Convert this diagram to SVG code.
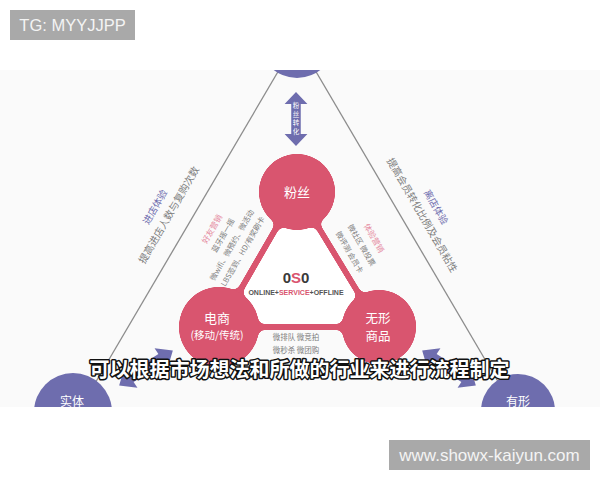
<svg xmlns="http://www.w3.org/2000/svg" width="600" height="480" viewBox="0 0 600 480">
<defs>
<clipPath id="frame"><rect x="0" y="70" width="600" height="337"/></clipPath>
<filter id="goo" x="0" y="0" width="600" height="480" filterUnits="userSpaceOnUse" color-interpolation-filters="sRGB">
<feGaussianBlur stdDeviation="3"/>
<feColorMatrix values="1 0 0 0 0  0 1 0 0 0  0 0 1 0 0  0 0 0 18 -8"/>
</filter>
<path id="dbl" d="M -32 0 L -18 -12 L -18 -5 L 18 -5 L 18 -12 L 32 0 L 18 12 L 18 5 L -18 5 L -18 12 Z"/>
</defs>
<style>
.cjk{font-family:"Noto Sans CJK SC","Noto Sans",sans-serif}
.lat{font-family:"Liberation Sans",Arial,sans-serif}
.edge{stroke:#8c8c8c;stroke-width:1.3;fill:none}
.purple{fill:#6e6dae}
.pink{fill:#d9556f}
.wt{fill:#ffffff}
.gray{fill:#7d7d7d}
.ptitle{fill:#6e6dae}
.ktitle{fill:#e58ba1}
</style>
<rect x="0" y="0" width="600" height="480" fill="#ffffff"/>
<rect x="0" y="70" width="600" height="337" fill="#fafafa"/>
<g clip-path="url(#frame)">
<g id="connectors">
<line class="edge" x1="279" y1="70" x2="94" y2="385"/>
<line class="edge" x1="315" y1="70" x2="500" y2="385"/>
<use href="#dbl" class="purple" transform="translate(296,119) rotate(90) scale(0.84,0.95)"/>
<use href="#dbl" class="purple" transform="translate(146,368) rotate(-33)"/>
<use href="#dbl" class="purple" transform="translate(449,368) rotate(33)"/>
<polygon points="297,192 219,327 379,327" fill="#ffffff"/>
<g filter="url(#goo)">
<polygon points="297,192 219,327 379,327" fill="none" stroke="#d9556f" stroke-width="6" stroke-linejoin="round"/>
<circle cx="297" cy="192" r="38" fill="#d9556f"/>
<circle cx="219" cy="327" r="40" fill="#d9556f"/>
<circle cx="379" cy="327" r="37" fill="#d9556f"/>
</g>
</g>
<g id="node-top"><circle cx="297" cy="40" r="38" class="purple"/></g>
<g id="node-fans">
<circle cx="297" cy="192" r="38" class="pink"/>
<text x="297" y="197" class="cjk wt" font-size="13" text-anchor="middle">粉丝</text>
</g>
<g id="node-ecommerce">
<circle cx="219" cy="327" r="40" class="pink"/>
<text x="217" y="323" class="cjk wt" font-size="13" text-anchor="middle">电商</text>
<text x="217" y="339" class="cjk wt" font-size="10.5" text-anchor="middle">(移动/传统)</text>
</g>
<g id="node-intangible">
<circle cx="379" cy="327" r="37" class="pink"/>
<text x="378" y="323" class="cjk wt" font-size="12.5" text-anchor="middle">无形</text>
<text x="378" y="341" class="cjk wt" font-size="12.5" text-anchor="middle">商品</text>
</g>
<g id="node-entity">
<circle cx="73" cy="412" r="39" class="purple"/>
<text x="72" y="406" class="cjk wt" font-size="12" text-anchor="middle">实体</text>
</g>
<g id="node-tangible">
<circle cx="518" cy="411" r="37" class="purple"/>
<text x="518" y="406" class="cjk wt" font-size="12" text-anchor="middle">有形</text>
</g>
<g id="node-center">
<text x="296" y="283" class="lat" font-size="15" font-weight="bold" fill="#3a3a3a" text-anchor="middle">0<tspan fill="#d9556f">S</tspan>0</text>
<text x="296" y="295" class="lat" font-size="7" font-weight="bold" fill="#555555" text-anchor="middle">ONLINE+<tspan fill="#d9556f">SERVICE</tspan>+OFFLINE</text>
</g>
<g id="label-arrow-top">
<text class="cjk wt" font-size="6.5" text-anchor="middle"><tspan x="296" y="108">粉</tspan><tspan x="296" y="116.5">丝</tspan><tspan x="296" y="125">转</tspan><tspan x="296" y="133.5">化</tspan></text>
</g>
<g id="label-left-outer" transform="translate(155,207) rotate(-60)">
<text x="0" y="3.5" class="cjk ptitle" font-size="9.5" text-anchor="middle">进店体验</text>
<text x="0" y="19.5" class="cjk gray" font-size="10" text-anchor="middle">提高进店人数与复购次数</text>
</g>
<g id="label-right-outer" transform="translate(436,207) rotate(60)">
<text x="0" y="3.5" class="cjk ptitle" font-size="9.5" text-anchor="middle">离店体验</text>
<text x="0" y="19.5" class="cjk gray" font-size="10" text-anchor="middle">提高会员转化比例及会员粘性</text>
</g>
<g id="label-left-inner" transform="translate(212,229) rotate(-60)">
<text x="0" y="3" class="cjk ktitle" font-size="8" text-anchor="middle">好友营销</text>
<text x="0" y="15.5" class="cjk gray" font-size="7.5" text-anchor="middle">蓝牙摇一摇</text>
<text x="-4" y="28" class="cjk gray" font-size="7.5" text-anchor="middle">微wifi、微预约、微活动</text>
<text x="-4" y="40.5" class="cjk gray" font-size="7.5" text-anchor="middle">LBS签到、HD/有奖刷卡</text>
</g>
<g id="label-right-inner" transform="translate(374,238) rotate(60)">
<text x="0" y="3" class="cjk ktitle" font-size="8" text-anchor="middle">体验营销</text>
<text x="0" y="17" class="cjk gray" font-size="7.5" text-anchor="middle">微社区  微投票</text>
<text x="0" y="31" class="cjk gray" font-size="7.5" text-anchor="middle">微评测  会员卡</text>
</g>
<g id="label-bottom-inner">
<text x="296" y="340" class="cjk gray" font-size="7.5" text-anchor="middle">微排队  微竞拍</text>
<text x="296" y="353" class="cjk gray" font-size="7.5" text-anchor="middle">微秒杀  微团购</text>
</g>
</g>
<text x="299.5" y="377" class="cjk" font-size="20" font-weight="bold" fill="#ffffff" stroke="#111111" stroke-width="3" paint-order="stroke" stroke-linejoin="round" text-anchor="middle">可以根据市场想法和所做的行业来进行流程制定</text>
<g id="watermark-top">
<rect x="10" y="10" width="125" height="30" fill="#a9a9a9"/>
<text x="72.5" y="31" class="lat" font-size="16.5" fill="#f4f4f4" text-anchor="middle">TG: MYYJJPP</text>
</g>
<g id="watermark-bottom">
<rect x="389" y="440" width="201" height="30" fill="#a9a9a9"/>
<text x="489.5" y="461" class="lat" font-size="17" fill="#f4f4f4" text-anchor="middle">www.showx-kaiyun.com</text>
</g>
</svg>
